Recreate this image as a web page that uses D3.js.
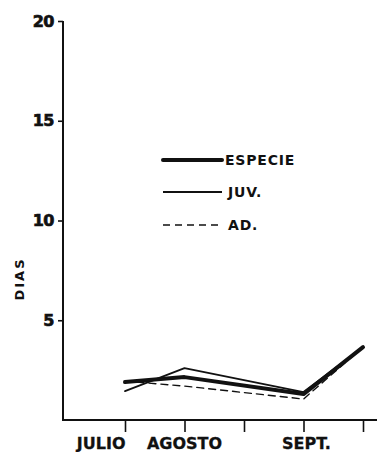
<!DOCTYPE html>
<html>
<head>
<meta charset="utf-8">
<script src="https://cdn.jsdelivr.net/npm/d3@7"></script>
<style>
body { margin:0; background:#fff; }
svg { display:block; }
svg text { font-family:"DejaVu Sans", sans-serif; font-weight:bold; }
</style>
</head>
<body>
<div id="chart"></div>
<script>
// half-month index along the x axis
var periods = [1, 2, 4, 5];
var especie = [1.9, 2.15, 1.3, 3.65];
var juv = [1.45, 2.6, 1.4, 3.65];
var ad = [1.95, 1.7, 1.05, 3.65];

var yTicks = [5, 10, 15, 20];
var xTicks = [1, 2, 3, 4, 5];
var months = ["JULIO", "AGOSTO", "SEPT."];
var monthPos = [0.6, 2, 4.05];

var legendNames = ["ESPECIE", "JUV.", "AD."];

var width = 377, height = 452;

var svg = d3.select("#chart").append("svg")
	.attr("width", width)
	.attr("height", height);

var x = d3.scaleLinear()
	.domain([1, 5])
	.range([125, 363]);

var y = d3.scaleLinear()
	.domain([0, 20])
	.range([420, 21]);

// y axis
var yAxis = d3.axisLeft(y)
	.tickValues(yTicks)
	.tickSize(5)
	.tickPadding(4)
	.tickFormat(d3.format("d"));

var gy = svg.append("g")
	.attr("transform", "translate(63,0)")
	.call(yAxis)
	.attr("font-size", 16);
gy.select(".domain").remove();
gy.append("line")
	.attr("x1", 0).attr("x2", 0)
	.attr("y1", y(20)).attr("y2", y(0) + 1)
	.attr("stroke", "#111").attr("stroke-width", 2);
gy.selectAll(".tick line").attr("stroke", "#111").attr("stroke-width", 1.6);
gy.selectAll(".tick text")
	.attr("fill", "#111")
	.attr("stroke", "#111")
	.attr("stroke-width", 0.7)
	.style("font-weight", "bold")
	.style("letter-spacing", "-0.5px");

// x axis
var xAxis = d3.axisBottom(x)
	.tickValues(xTicks)
	.tickSize(12)
	.tickFormat("");

var gx = svg.append("g")
	.attr("transform", "translate(0,420)")
	.call(xAxis);
gx.select(".domain").remove();
gx.append("line")
	.attr("x1", 62).attr("x2", 377)
	.attr("y1", 0).attr("y2", 0)
	.attr("stroke", "#111").attr("stroke-width", 2.2);
gx.selectAll(".tick line").attr("stroke", "#111").attr("stroke-width", 1.6);

svg.selectAll(".month")
	.data(months)
	.enter()
	.append("text")
	.attr("class", "month")
	.attr("x", function(d, i) { return x(monthPos[i]); })
	.attr("y", 449)
	.attr("text-anchor", "middle")
	.attr("fill", "#111")
	.attr("stroke", "#111")
	.attr("stroke-width", 0.3)
	.style("font-size", "16px")
	.text(function(d) { return d; });

// y label
svg.append("text")
	.attr("transform", "translate(24,279) rotate(-90)")
	.attr("text-anchor", "middle")
	.attr("fill", "#111")
	.style("font-size", "13px")
	.style("letter-spacing", "2px")
	.text("DIAS");

// lines
var lineGenerator = d3.line()
	.x(function(d, i) { return x(periods[i]); })
	.y(function(d) { return y(d); });

var styles = [
	{ w: 4, dash: null },
	{ w: 1.8, dash: null },
	{ w: 1.4, dash: "7,5" }
];
var series = [especie, juv, ad];

svg.selectAll(".serie")
	.data([ad, juv, especie])
	.enter()
	.append("path")
	.attr("class", "serie")
	.attr("d", function(d) { return lineGenerator(d); })
	.attr("fill", "none")
	.attr("stroke", "#111")
	.attr("stroke-linejoin", "round")
	.attr("stroke-linecap", "round")
	.attr("stroke-width", function(d) { return styles[series.indexOf(d)].w; })
	.attr("stroke-dasharray", function(d) { return styles[series.indexOf(d)].dash; });

// legend
var legendY = [160, 192, 225];
var leg = svg.selectAll(".legend")
	.data(legendNames)
	.enter()
	.append("g")
	.attr("class", "legend")
	.attr("transform", function(d, i) { return "translate(0," + legendY[i] + ")"; });

leg.append("line")
	.attr("x1", 163).attr("x2", 222)
	.attr("y1", 0).attr("y2", 0)
	.attr("stroke", "#111")
	.attr("stroke-linecap", function(d, i) { return i == 0 ? "round" : "butt"; })
	.attr("stroke-width", function(d, i) { return styles[i].w; })
	.attr("stroke-dasharray", function(d, i) { return styles[i].dash; });

leg.append("text")
	.attr("x", function(d, i) { return i == 0 ? 225 : 228; })
	.attr("y", 5)
	.attr("fill", "#111")
	.style("font-size", "14px")
	.style("letter-spacing", "0.8px")
	.text(function(d) { return d; });
</script>
</body>
</html>
